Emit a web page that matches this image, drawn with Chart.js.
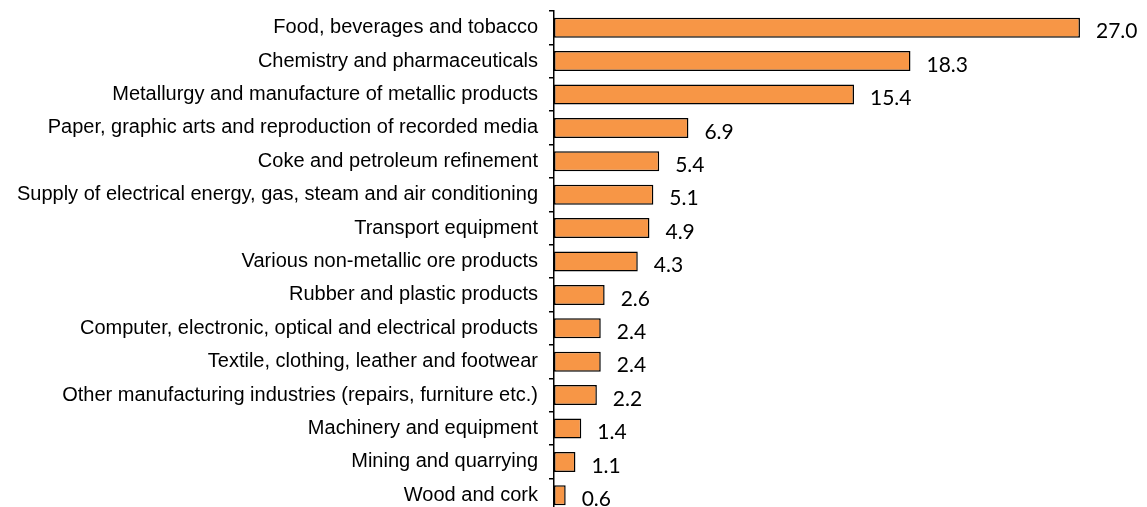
<!DOCTYPE html>
<html>
<head>
<meta charset="utf-8">
<script src="https://cdn.jsdelivr.net/npm/chart.js@4"></script>
<style>
  html, body { margin: 0; padding: 0; background: #fff; overflow: hidden; }
  #wrap { position: relative; top: -12px; width: 1147px; height: 547px; }
</style>
</head>
<body>
<div id="wrap"><canvas id="sectorChart"></canvas></div>
<script>
// 業種ごとの値
const sectors = [
    'Food, beverages and tobacco',
    'Chemistry and pharmaceuticals',
    'Metallurgy and manufacture of metallic products',
    'Paper, graphic arts and reproduction of recorded media',
    'Coke and petroleum refinement',
    'Supply of electrical energy, gas, steam and air conditioning',
    'Transport equipment',
    'Various non-metallic ore products',
    'Rubber and plastic products',
    'Computer, electronic, optical and electrical products',
    'Textile, clothing, leather and footwear',
    'Other manufacturing industries (repairs, furniture etc.)',
    'Machinery and equipment',
    'Mining and quarrying',
    'Wood and cork'
];
const shares = [27.0, 18.3, 15.4, 6.9, 5.4, 5.1, 4.9, 4.3, 2.6, 2.4, 2.4, 2.2, 1.4, 1.1, 0.6];
const axisMin = 0;
const axisMax = 30;

// 棒の右に数値を描くプラグイン
const valueLabels = {
    id: 'valueLabels',
    afterDatasetsDraw(chart) {
        const c = chart.ctx;
        const meta = chart.getDatasetMeta(0);
        c.save();
        c.font = '21px Lato, "Noto Sans", sans-serif';
        c.fillStyle = '#000';
        c.textAlign = 'left';
        c.textBaseline = 'middle';
        meta.data.forEach((bar, i) => {
            c.fillText(shares[i].toFixed(1), bar.x + 16, bar.y + 4);
        });
        c.restore();
    }
};

new Chart(document.getElementById('sectorChart').getContext('2d'), {
    type: 'bar',
    data: {
        labels: sectors,
        datasets: [{
            data: shares,
            backgroundColor: '#F79646',
            borderColor: '#000',
            borderWidth: 1.5,
            borderSkipped: false,
            categoryPercentage: 1,
            barPercentage: 0.6
        }]
    },
    options: {
        indexAxis: 'y',
        responsive: true,
        maintainAspectRatio: false,
        animation: false,
        layout: { padding: { top: 0, right: 8.6, bottom: 3, left: 0 } },
        plugins: { legend: { display: false }, tooltip: { enabled: false } },
        scales: {
            x: { display: false, min: axisMin, max: axisMax },
            y: {
                afterFit(scale) { scale.width = 554; },
                grid: {
                    offset: true,
                    drawOnChartArea: false,
                    drawTicks: true,
                    tickLength: 5,
                    color: '#000',
                    lineWidth: 1.5
                },
                border: { display: true, color: '#000', width: 1.5 },
                ticks: {
                    color: '#000',
                    padding: 11,
                    font: { family: '"Liberation Sans", Arial, sans-serif', size: 20 }
                }
            }
        }
    },
    plugins: [valueLabels]
});
</script>
</body>
</html>
